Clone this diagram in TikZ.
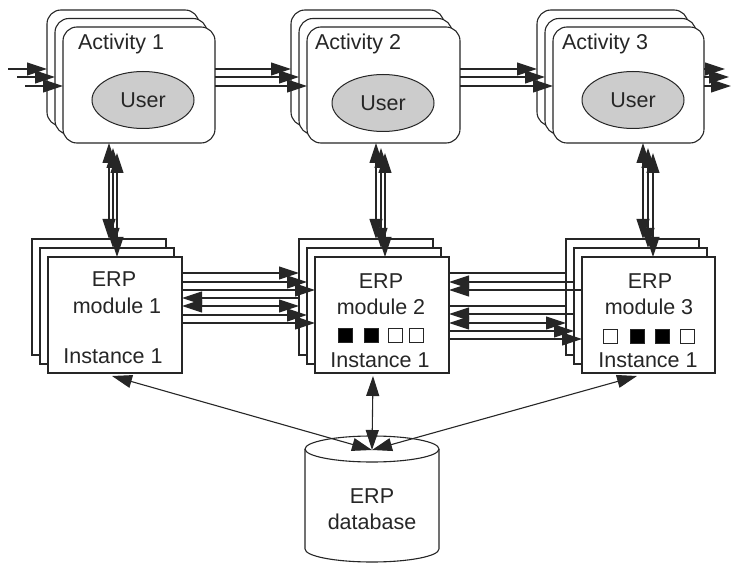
\documentclass[tikz,border=0pt]{standalone}
\usepackage{fontspec}
\setmainfont{Liberation Sans}
\usetikzlibrary{arrows.meta,shapes.geometric}
\begin{document}
\begin{tikzpicture}[x=1pt,y=-1pt,
  every node/.style={inner sep=0pt, outer sep=0pt},
  acard/.style={draw=black!85, fill=white, rounded corners=14pt, line width=1.1pt, minimum height=116pt},
  mcard/.style={draw=black!85, fill=white, line width=1.1pt, minimum width=134pt, minimum height=116pt},
  usr/.style={draw=black!85, ellipse, fill=black!20, minimum width=102pt, minimum height=57pt, line width=1pt},
  lbl/.style={font=\fontsize{21.5}{26}\selectfont, text=black!85},
  conn/.style={line width=1.1pt, draw=black!85},
  tip/.style={conn, -{Triangle[length=20pt,width=13pt]}},
  dtip/.style={conn, {Triangle[length=20pt,width=13pt]}-{Triangle[length=20pt,width=13pt]}},
  sq/.style={draw=black!85, line width=1pt, minimum size=14pt},
]
\path[use as bounding box] (0,0) rectangle (731,564);

% ---------- activity cards ----------
\node[acard, minimum width=152pt] (a1b) at (123,68) {};
\node[acard, minimum width=152pt] (a1m) at (131,76.5) {};
\node[acard, minimum width=152pt] (a1f) at (139,85) {};
\node[lbl, anchor=base west] (a1t) at (78,50) {Activity 1};
\node[usr, lbl] (u1) at (143,100) {User};

\node[acard, minimum width=153pt] (a2b) at (367.5,68) {};
\node[acard, minimum width=153pt] (a2m) at (375.5,76.5) {};
\node[acard, minimum width=153pt] (a2f) at (383.5,85) {};
\node[lbl, anchor=base west] (a2t) at (315,50) {Activity 2};
\node[usr, lbl] (u2) at (383,103) {User};

\node[acard, minimum width=151pt] (a3b) at (612.5,68) {};
\node[acard, minimum width=151pt] (a3m) at (620.5,76.5) {};
\node[acard, minimum width=151pt] (a3f) at (628.5,85) {};
\node[lbl, anchor=base west] (a3t) at (562,50) {Activity 3};
\node[usr, lbl] (u3) at (633,100) {User};

% ---------- module cards ----------
\node[mcard] (m1b) at (99,297) {};
\node[mcard] (m1m) at (107,306) {};
\node[mcard] (m1f) at (115,315) {};
\node[lbl, anchor=base] (m1t1) at (114,287) {ERP};
\node[lbl, anchor=base] (m1t2) at (117,313) {module 1};
\node[lbl, anchor=base] (m1t3) at (113,363) {Instance 1};

\node[mcard] (m2b) at (366,297) {};
\node[mcard] (m2m) at (374,306) {};
\node[mcard] (m2f) at (382,315) {};
\node[lbl, anchor=base] (m2t1) at (381,288) {ERP};
\node[lbl, anchor=base] (m2t2) at (381,314) {module 2};
\node[lbl, anchor=base] (m2t3) at (380,367) {Instance 1};
\node[sq, fill=black] (s21) at (345.5,335) {};
\node[sq, fill=black] (s22) at (371,335) {};
\node[sq, fill=white] (s23) at (395.5,335) {};
\node[sq, fill=white] (s24) at (416.5,335) {};

\node[mcard, minimum width=133pt] (m3b) at (632.5,297) {};
\node[mcard, minimum width=133pt] (m3m) at (640.5,306) {};
\node[mcard, minimum width=133pt] (m3f) at (648.5,315) {};
\node[lbl, anchor=base] (m3t1) at (650,288) {ERP};
\node[lbl, anchor=base] (m3t2) at (649,314) {module 3};
\node[lbl, anchor=base] (m3t3) at (648,367) {Instance 1};
\node[sq, fill=white] (s31) at (610.5,336) {};
\node[sq, fill=black] (s32) at (637.5,336) {};
\node[sq, fill=black] (s33) at (662.5,336) {};
\node[sq, fill=white] (s34) at (687.5,336) {};

% ---------- database ----------
\draw[conn, fill=white] (305,449) -- (305,549) arc[start angle=180, end angle=360, x radius=67pt, y radius=13pt] -- (439,449);
\draw[conn] (372,449) ellipse [x radius=67pt, y radius=13pt];
\node[lbl, align=center] (db) at (372,509) {ERP\\database};
\coordinate (dbtop) at (372,450);

% ---------- row levels ----------
\coordinate (r1) at (0,69);
\coordinate (r2) at (0,77);
\coordinate (r3) at (0,86);
\coordinate (in1) at (8,69);
\coordinate (in2) at (17,77);
\coordinate (in3) at (25,86);
\coordinate (out1) at (725,69);
\coordinate (out2) at (729,77);
\coordinate (out3) at (731,86);

% inputs to activity 1
\draw[tip] (in1) -- (a1b.west |- r1);
\draw[tip] (in2) -- (a1m.west |- r2);
\draw[tip] (in3) -- (a1f.west |- r3);
% activity 1 -> activity 2
\draw[tip] (a1f.east |- r1) -- (a2b.west |- r1);
\draw[tip] (a1f.east |- r2) -- (a2m.west |- r2);
\draw[tip] (a1f.east |- r3) -- (a2f.west |- r3);
% activity 2 -> activity 3
\draw[tip] (a2f.east |- r1) -- (a3b.west |- r1);
\draw[tip] (a2f.east |- r2) -- (a3m.west |- r2);
\draw[tip] (a2f.east |- r3) -- (a3f.west |- r3);
% activity 3 -> out
\draw[tip] (a3f.east |- r1) -- (out1);
\draw[tip] (a3f.east |- r2) -- (out2);
\draw[tip] (a3f.east |- r3) -- (out3);

% ---------- vertical links ----------
\coordinate (c1a) at (109,0); \coordinate (c1b) at (113,0); \coordinate (c1c) at (117,0);
\coordinate (c2a) at (376,0); \coordinate (c2b) at (381,0); \coordinate (c2c) at (385,0);
\coordinate (c3a) at (643,0); \coordinate (c3b) at (648,0); \coordinate (c3c) at (653,0);
\coordinate (t1) at (0,143); \coordinate (t2) at (0,148); \coordinate (t3) at (0,153);

\draw[dtip] (c1a |- t1) -- (c1a |- m1b.north);
\draw[dtip] (c1b |- t2) -- (c1b |- m1m.north);
\draw[dtip] (c1c |- t3) -- (c1c |- m1f.north);
\draw[dtip] (c2a |- t1) -- (c2a |- m2b.north);
\draw[dtip] (c2b |- t2) -- (c2b |- m2m.north);
\draw[dtip] (c2c |- t3) -- (c2c |- m2f.north);
\draw[dtip] (c3a |- t1) -- (c3a |- m3b.north);
\draw[dtip] (c3b |- t2) -- (c3b |- m3m.north);
\draw[dtip] (c3c |- t3) -- (c3c |- m3f.north);

% ---------- module 1 <-> module 2 ----------
\coordinate (k1) at (0,273); \coordinate (k2) at (0,282); \coordinate (k3) at (0,290);
\coordinate (k4) at (0,298); \coordinate (k5) at (0,306); \coordinate (k6) at (0,315);
\coordinate (k7) at (0,323);
\draw[tip] (m1f.east |- k1) -- (m2b.west |- k1);
\draw[tip] (m1f.east |- k2) -- (m2m.west |- k2);
\draw[tip] (m1f.east |- k3) -- (m2f.west |- k3);
\draw[tip] (m2b.west |- k4) -- (m1f.east |- k4);
\draw[dtip] (m1f.east |- k5) -- (m2b.west |- k5);
\draw[tip] (m1f.east |- k6) -- (m2m.west |- k6);
\draw[tip] (m1f.east |- k7) -- (m2f.west |- k7);

% ---------- module 2 <-> module 3 ----------
\coordinate (j1) at (0,273); \coordinate (j2) at (0,282); \coordinate (j3) at (0,290);
\coordinate (j4) at (0,306); \coordinate (j5) at (0,314); \coordinate (j6) at (0,323);
\coordinate (j7) at (0,331); \coordinate (j8) at (0,339);
\draw[conn] (m2f.east |- j1) -- (m3b.west |- j1);
\draw[tip] (m3m.west |- j2) -- (m2f.east |- j2);
\draw[tip] (m3f.west |- j3) -- (m2f.east |- j3);
\draw[conn] (m2f.east |- j4) -- (m3b.west |- j4);
\draw[tip] (m3m.west |- j5) -- (m2f.east |- j5);
\draw[dtip] (m2f.east |- j6) -- (m3b.west |- j6);
\draw[tip] (m2f.east |- j7) -- (m3m.west |- j7);
\draw[tip] (m2f.east |- j8) -- (m3f.west |- j8);

% ---------- modules <-> database ----------
\coordinate (d1) at (112,376);
\coordinate (d2) at (373,376);
\coordinate (d3) at (637,376);
\draw[dtip] (d1) -- (dbtop);
\draw[dtip] (d2) -- (dbtop);
\draw[dtip] (d3) -- (dbtop);
\end{tikzpicture}
\end{document}
